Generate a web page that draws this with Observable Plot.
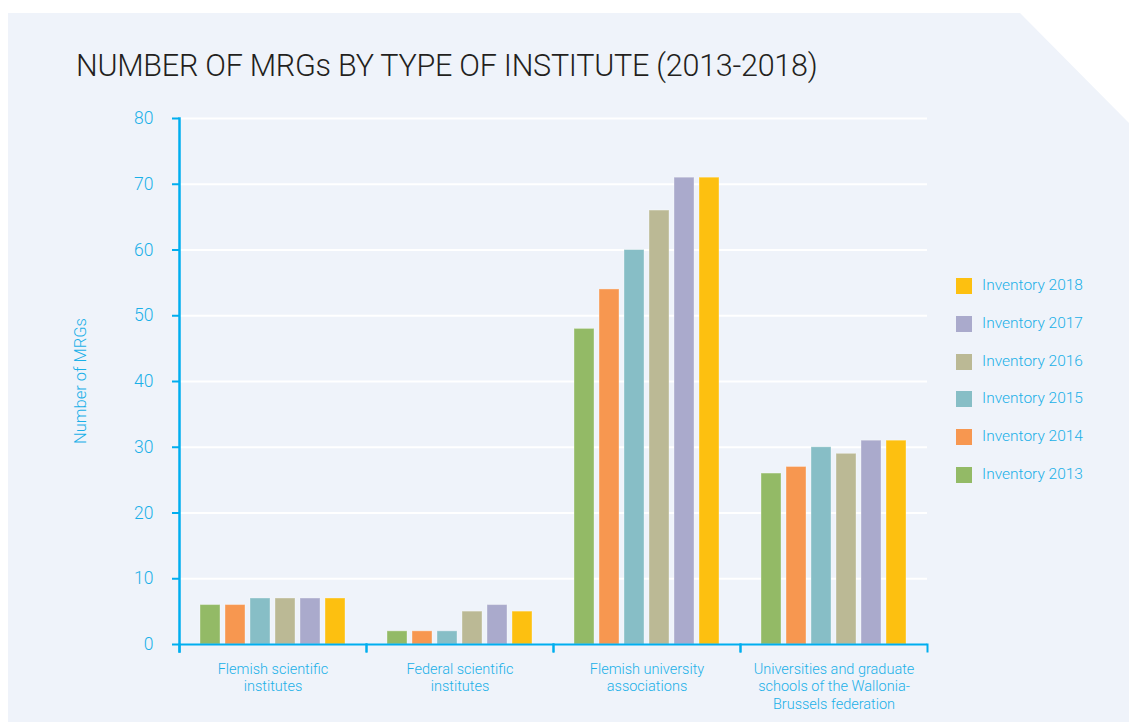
<!DOCTYPE html>
<html>
<head>
<meta charset="utf-8">
<script src="https://cdn.jsdelivr.net/npm/d3@7"></script>
<script src="https://cdn.jsdelivr.net/npm/@observablehq/plot@0.6"></script>
<style>
  html, body { margin: 0; padding: 0; background: #ffffff; }
  #wrap { position: relative; width: 1129px; height: 722px; overflow: hidden; font-family: Roboto, "Liberation Sans", sans-serif; }
  #panel { position: absolute; left: 8px; top: 13px; width: 1121px; height: 709px; background: #eff3fa;
           clip-path: polygon(0 0, 1012px 0, 100% 110px, 100% 100%, 0 100%); }
  #title { position: absolute; left: 76px; top: 48px; font-size: 30.5px; font-weight: 300; color: #231f20; letter-spacing: -0.25px; white-space: nowrap; }
  #chart { position: absolute; left: 0; top: 0; }
  #ylabel { position: absolute; left: 80px; top: 381px; transform: translate(-50%, -50%) rotate(-90deg); color: #1ab0e8; font-size: 16.5px; font-weight: 300; white-space: nowrap; }
  #legend { position: absolute; left: 956px; top: 277px; }
  .item { position: absolute; left: 0; height: 18px; white-space: nowrap; }
  .sw { position: absolute; left: 0; top: 1px; width: 16px; height: 16px; }
  .lab { position: absolute; left: 26px; top: -1px; font-size: 15.5px; font-weight: 300; color: #1ab0e8; }
</style>
</head>
<body>
<div id="wrap">
  <div id="panel"></div>
  <div id="title">NUMBER OF MRGs BY TYPE OF INSTITUTE (2013-2018)</div>
  <div id="chart"></div>
  <div id="ylabel">Number of MRGs</div>
  <div id="legend"></div>
</div>
<script>
// ---- data ----
const groups = [
  "Flemish scientific\ninstitutes",
  "Federal scientific\ninstitutes",
  "Flemish university\nassociations",
  "Universities and graduate\nschools of the Wallonia-\nBrussels federation"
];
const years = ["Inventory 2013", "Inventory 2014", "Inventory 2015", "Inventory 2016", "Inventory 2017", "Inventory 2018"];
const flemishScientific = [6, 6, 7, 7, 7, 7];
const federalScientific = [2, 2, 2, 5, 6, 5];
const flemishUniversity = [48, 54, 60, 66, 71, 71];
const walloniaBrussels = [26, 27, 30, 29, 31, 31];
const yTicks = [0, 10, 20, 30, 40, 50, 60, 70, 80];
const colors = ["#93ba66", "#f79750", "#87bec6", "#bbb995", "#aaaacc", "#fdc010"];

const seriesByGroup = [flemishScientific, federalScientific, flemishUniversity, walloniaBrussels];
const rows = [];
groups.forEach((g, gi) => years.forEach((y, yi) => rows.push({group: g, year: y, value: seriesByGroup[gi][yi]})));

const blue = "#00aeef";
const textBlue = "#1ab0e8";

const chart = Plot.plot({
  width: 940,
  height: 722,
  marginTop: 118,
  marginBottom: 78,
  marginLeft: 177,
  marginRight: 12,
  style: { background: "transparent", fontFamily: "Roboto, 'Liberation Sans', sans-serif", overflow: "visible" },
  fx: { domain: groups, padding: 0, label: null, axis: null },
  x: { domain: years, paddingInner: 0.2, paddingOuter: 0.84, axis: null },
  y: { domain: [0, 80], label: null },
  color: { domain: years, range: colors },
  marks: [
    Plot.gridY(yTicks.filter(d => d > 0), { stroke: "#ffffff", strokeOpacity: 1, strokeWidth: 2 }),
    Plot.barY(rows, { fx: "group", x: "year", y: "value", fill: "year", stroke: "#ffffff", strokeOpacity: 0.35, strokeWidth: 1 }),
    Plot.ruleY([0], { stroke: blue, strokeWidth: 2 }),
    Plot.frame({ anchor: "left", facetAnchor: "left", stroke: blue, strokeWidth: 2.5, insetBottom: -7 }),
    Plot.frame({ anchor: "left", stroke: blue, strokeWidth: 2, insetTop: 526, insetBottom: -7 }),
    Plot.frame({ anchor: "right", stroke: blue, strokeWidth: 2, insetTop: 526, insetBottom: -7 }),
    Plot.axisY(yTicks, { tickSize: 7, tickPadding: 19, stroke: blue, strokeWidth: 2, fill: textBlue, fontSize: 17.5, fontWeight: 300, label: null }),
    Plot.axisFx({ anchor: "bottom", tickSize: 0, tickPadding: 17, fill: textBlue, fontSize: 14.5, fontWeight: 300, lineHeight: 1.2, label: null })
  ]
});
document.getElementById("chart").appendChild(chart);

// legend (top to bottom: 2018 ... 2013)
const legend = document.getElementById("legend");
const step = 37.8;
years.slice().reverse().forEach((y, i) => {
  const idx = years.indexOf(y);
  const item = document.createElement("div");
  item.className = "item";
  item.style.top = (i * step) + "px";
  item.innerHTML = `<div class="sw" style="background:${colors[idx]}"></div><div class="lab">${y}</div>`;
  legend.appendChild(item);
});
</script>
</body>
</html>
